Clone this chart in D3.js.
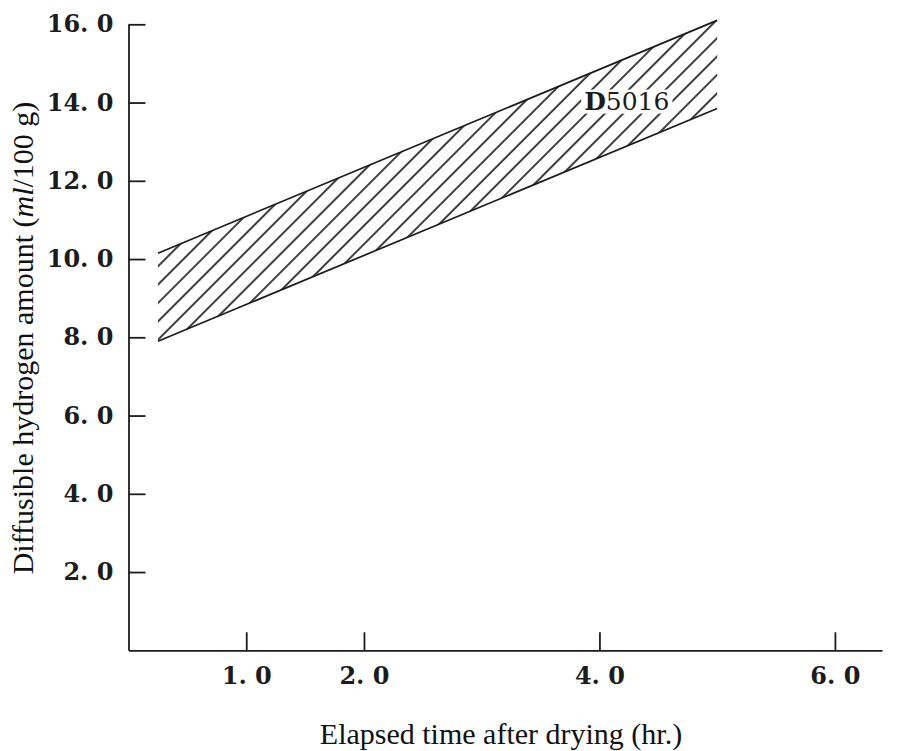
<!DOCTYPE html>
<html>
<head>
<meta charset="utf-8">
<script src="https://cdn.jsdelivr.net/npm/d3@7"></script>
<style>
  body { margin: 0; background: #fff; }
  #chart-area svg { display: block; }
</style>
</head>
<body>
<div id="chart-area"></div>
<script>

// values
var elapsedHr = [0.25, 5.0];
var upperHydrogen = [10.15, 16.1];
var lowerHydrogen = [7.9, 13.85];
var xTickValues = [1.0, 2.0, 4.0, 6.0];
var yTickValues = [2.0, 4.0, 6.0, 8.0, 10.0, 12.0, 14.0, 16.0];
var bandName = ["D", "5016"];

/*
 * BandChart - hatched range band
 * @param _parentElement -- element to draw into
 */
BandChart = function(_parentElement) {
    this.parentElement = _parentElement;
    this.initVis();
};

BandChart.prototype.initVis = function() {
    var vis = this;

    vis.w = 909;
    vis.h = 751;
    vis.ink = "#1c1c1c";

    vis.x = d3.scaleLinear().domain([0, 6.4]).range([128.5, 882]);
    vis.y = d3.scaleLinear().domain([0, 16]).range([650.3, 24.3]);

    vis.svg = d3.select(vis.parentElement)
        .append("svg")
        .attr("width", vis.w)
        .attr("height", vis.h);

    var defs = vis.svg.append("defs");
    defs.append("pattern")
        .attr("id", "hatch")
        .attr("patternUnits", "userSpaceOnUse")
        .attr("width", 13)
        .attr("height", 13)
        .attr("patternTransform", "rotate(45)")
        .append("line")
        .attr("x1", 1).attr("y1", -1)
        .attr("x2", 1).attr("y2", 14)
        .attr("stroke", vis.ink)
        .attr("stroke-width", 1.7);

    vis.wrangleData();
};

BandChart.prototype.wrangleData = function() {
    var vis = this;

    vis.band = elapsedHr.map(function(t, i) {
        return { t: t, lo: lowerHydrogen[i], hi: upperHydrogen[i] };
    });

    vis.updateVis();
};

BandChart.prototype.updateVis = function() {
    var vis = this;

    // axes, ticks pointing inward
    var fmt = function(d) { return d.toFixed(1).replace(".", ". "); };

    var yAxis = d3.axisLeft(vis.y)
        .tickValues(yTickValues)
        .tickSizeInner(-17)
        .tickSizeOuter(0)
        .tickPadding(15)
        .tickFormat(fmt);

    var xAxis = d3.axisBottom(vis.x)
        .tickValues(xTickValues)
        .tickSizeInner(-18)
        .tickSizeOuter(0)
        .tickPadding(17)
        .tickFormat(fmt);

    var gy = vis.svg.append("g")
        .attr("transform", "translate(" + vis.x(0) + ",0)")
        .call(yAxis);

    var gx = vis.svg.append("g")
        .attr("transform", "translate(0," + vis.y(0) + ")")
        .call(xAxis);

    [gy, gx].forEach(function(g) {
        g.selectAll("path, line")
            .attr("stroke", vis.ink)
            .attr("stroke-width", 1.8);
        g.selectAll("text")
            .attr("fill", vis.ink)
            .attr("font-family", "'DejaVu Serif', serif")
            .attr("font-weight", "bold")
            .attr("font-size", 24);
    });

    // the band: hatch fill plus both edge lines
    var area = d3.area()
        .x(function(d) { return vis.x(d.t); })
        .y0(function(d) { return vis.y(d.lo); })
        .y1(function(d) { return vis.y(d.hi); });

    vis.svg.append("path")
        .datum(vis.band)
        .attr("d", area)
        .attr("fill", "url(#hatch)");

    ["lo", "hi"].forEach(function(k) {
        vis.svg.append("path")
            .datum(vis.band)
            .attr("d", d3.line()
                .x(function(d) { return vis.x(d.t); })
                .y(function(d) { return vis.y(d[k]); }))
            .attr("fill", "none")
            .attr("stroke", vis.ink)
            .attr("stroke-width", 1.7);
    });

    // series label with white knock-out behind it
    var lab = vis.svg.append("text")
        .attr("x", vis.x(3.87))
        .attr("y", vis.y(13.82))
        .attr("fill", vis.ink)
        .attr("font-family", "'DejaVu Serif', serif")
        .attr("font-size", 25);
    lab.append("tspan").attr("font-weight", "bold").text(bandName[0]);
    lab.append("tspan").text(bandName[1]);

    var bb = lab.node().getBBox();
    vis.svg.append("rect")
        .attr("x", bb.x - 3).attr("y", bb.y + 3)
        .attr("width", bb.width + 6).attr("height", bb.height - 5)
        .attr("fill", "#fff");
    lab.raise();

    // axis titles
    vis.svg.append("text")
        .attr("x", 501)
        .attr("y", 744)
        .attr("text-anchor", "middle")
        .attr("fill", "#111")
        .attr("font-family", "'Liberation Serif', serif")
        .attr("font-size", 30)
        .text("Elapsed time after drying (hr.)");

    var yt = vis.svg.append("text")
        .attr("transform", "translate(33,338) rotate(-90)")
        .attr("text-anchor", "middle")
        .attr("fill", "#111")
        .attr("font-family", "'Liberation Serif', serif")
        .attr("font-size", 30);
    yt.append("tspan").text("Diffusible hydrogen amount (");
    yt.append("tspan").attr("font-style", "italic").text("ml");
    yt.append("tspan").text("/100 g)");
};

new BandChart("#chart-area");

</script>
</body>
</html>
